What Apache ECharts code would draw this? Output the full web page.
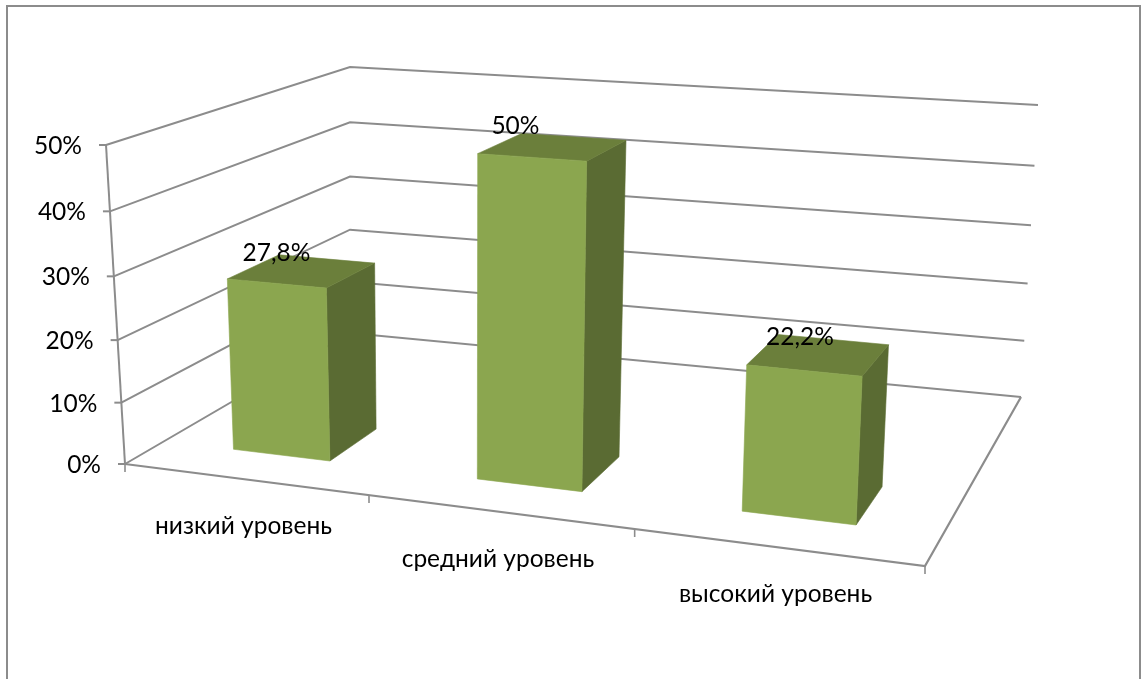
<!DOCTYPE html>
<html><head><meta charset="utf-8">
<style>html,body{margin:0;padding:0;background:#fff}#c{width:1142px;height:679px}</style>
<script src="https://cdn.jsdelivr.net/npm/echarts@6/dist/echarts.min.js"></script>
</head><body><div id="c"></div>
<script>
const categories = ['низкий уровень', 'средний уровень', 'высокий уровень'];
const values = [27.8, 50, 22.2];
const valueLabels = ['27,8%', '50%', '22,2%'];
const yTicks = [0, 10, 20, 30, 40, 50];
const yTickLabels = ['0%', '10%', '20%', '30%', '40%', '50%'];
const labelNudge = [[-50, -6], [-58, -11], [-33, -3]];

const FONT = 'Lato, "Noto Sans", sans-serif', FS = 24.5, LINE = '#8c8c8c';
const GRID = {left: 125, top: 145, width: 800, height: 319};
// Perspective box: floor and ceiling quads [front-left, front-right, back-right, back-left]
const floorQ = [[125,464],[925,566],[1021,397],[350,333]];
const topQ = [[106,145],[941,205],[1038,105],[350,67]];
const BAR_W = 0.405, V0 = 0.15, V1 = 0.36, K = 1.05, KU = 0.975;

function homog(q) {
  const [[x0,y0],[x1,y1],[x2,y2],[x3,y3]] = q;
  const dx1=x1-x2, dx2=x3-x2, sx=x0-x1+x2-x3, dy1=y1-y2, dy2=y3-y2, sy=y0-y1+y2-y3;
  const d=dx1*dy2-dx2*dy1, g=(sx*dy2-dx2*sy)/d, h=(dx1*sy-sx*dy1)/d;
  const a=x1-x0+g*x1, b=x3-x0+h*x3, c=x0, e=y1-y0+g*y1, f=y3-y0+h*y3, k=y0;
  return (u,v)=>{const w=g*u+h*v+1;return [(a*u+b*v+c)/w,(e*u+f*v+k)/w];};
}
const hFloor = homog(floorQ), hTop = homog(topQ);
function P(u0,v,t0){
  const t=t0/(t0+(1-t0)*K), u=u0/(u0+(1-u0)*KU), a=hFloor(u,v), b=hTop(u,v);
  return [a[0]+(b[0]-a[0])*t, a[1]+(b[1]-a[1])*t];
}
const toU = px => (px-GRID.left)/GRID.width;
const toT = py => (GRID.top+GRID.height-py)/GRID.height;
const line = (pts, w) => ({type:'polyline',shape:{points:pts},style:{stroke:LINE,lineWidth:w||2,fill:null}});
const txt = (s,x,y,align) => ({type:'text',z2:100,style:{text:s,x:x,y:y,align:align||'center',verticalAlign:'middle',fontFamily:FONT,fontSize:FS,fill:'#000'}});
const poly = (pts,c) => ({type:'polygon',shape:{points:pts},style:{fill:c,stroke:c,lineWidth:0.6}});

function renderWall(params, api) {
  const i = params.dataIndex, t = toT(api.coord([0, api.value(1)])[1]);
  const a = P(0,0,t), ch = [
    line([a, P(0,1,t), P(1,1,t)]),
    line([[a[0]-7,a[1]], a]),
    txt(yTickLabels[i], a[0]-24, a[1]+1, 'right')
  ];
  if (i === 0) {
    ch.push(line([P(1,1,0), P(1,0,0), P(0,0,0)], 2.2));
    ch.push(line([P(0,0,0), P(0,0,1)], 2));
    for (let k = 0; k <= categories.length; k++) {
      const p = P(k/categories.length,0,0);
      ch.push(line([p,[p[0],p[1]+8]],1.6));
    }
  }
  return {type:'group',children:ch};
}
function renderBar(params, api) {
  const i = params.dataIndex, c = api.coord([api.value(0), api.value(1)]);
  const bw = api.size([1,0])[0]/GRID.width*BAR_W, u = toU(c[0]), t = toT(c[1]);
  const u0=u-bw/2, u1=u+bw/2;
  const A=P(u0,V0,0),B=P(u1,V0,0),C=P(u1,V1,0),D=P(u0,V0,t),E=P(u1,V0,t),F=P(u1,V1,t),G=P(u0,V1,t);
  const lab=P(u,V1,t), base=P(u,0,0), n=labelNudge[i];
  return {type:'group',children:[
    poly([B,C,F,E],'#5a6b33'),
    poly([D,E,F,G],'#6b7f3b'),
    poly([A,B,E,D],'#8ba64f'),
    txt(valueLabels[i], lab[0]+n[0], lab[1]+n[1]),
    txt(categories[i], base[0]-1, base[1]+47)
  ]};
}
const chart = echarts.init(document.getElementById('c'), null, {renderer:'canvas'});
chart.setOption({
  animation:false, backgroundColor:'#fff',
  graphic:[{type:'rect',shape:{x:7,y:6,width:1133,height:690},style:{fill:'none',stroke:'#8c8c8c',lineWidth:2},z:0,silent:true}],
  grid:GRID,
  xAxis:{type:'category',data:categories,show:false},
  yAxis:{type:'value',min:0,max:50,interval:10,show:false},
  series:[
    {type:'custom',z:2,coordinateSystem:'cartesian2d',renderItem:renderWall,data:yTicks.map(t=>[0,t]),clip:false},
    {type:'custom',z:3,coordinateSystem:'cartesian2d',renderItem:renderBar,data:values.map((v,i)=>[i,v]),clip:false}
  ]
});
</script></body></html>
